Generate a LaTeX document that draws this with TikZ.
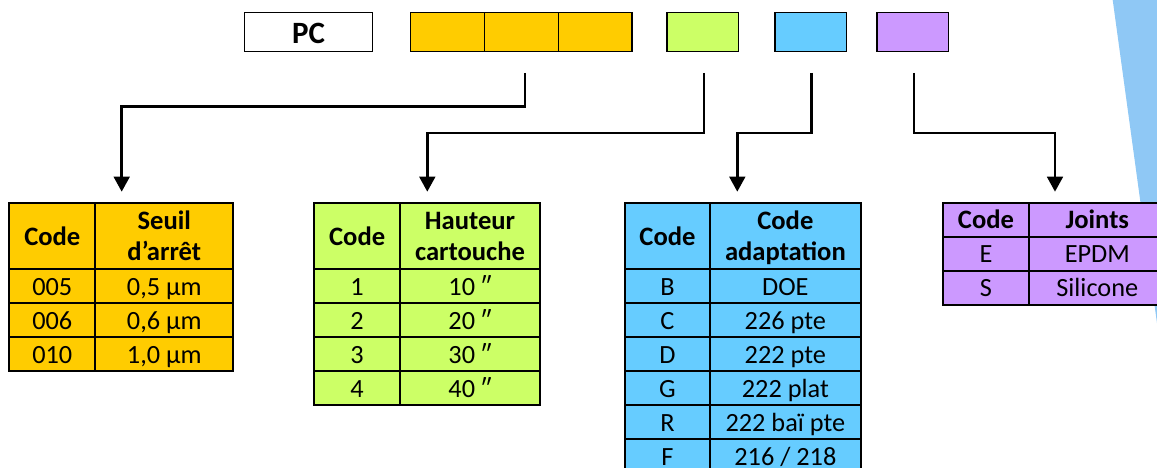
\documentclass[tikz,border=0pt]{standalone}
\usepackage{fontspec}
\setmainfont{Carlito}
\usetikzlibrary{arrows.meta}

\definecolor{seuilcol}{HTML}{FFCC00}
\definecolor{hauteurcol}{HTML}{CCFF66}
\definecolor{adaptcol}{HTML}{66CCFF}
\definecolor{jointcol}{HTML}{CC99FF}
\definecolor{swoosh}{HTML}{8FC8F5}

\tikzset{
  codebox/.style={draw, line width=1.3pt, minimum height=39pt, inner sep=0pt,
    outer sep=0pt, anchor=north west, text height=25pt, text depth=1pt,
    font=\fontsize{31}{31}\selectfont\bfseries},
  cell/.style={draw, line width=2.2pt, minimum height=34pt, inner sep=0pt,
    outer sep=0pt, anchor=north west, align=center, text height=19pt,
    text depth=1pt, font=\fontsize{26.3}{31.5}\selectfont},
  headcell/.style={cell, minimum height=66.7pt,
    font=\fontsize{26.6}{31.5}\selectfont\bfseries},
  twolines/.style={headcell, text height=50.5pt},
  link/.style={line width=2.6pt, -{Triangle[width=15.7pt,length=15pt]}},
}

\begin{document}
\begin{tikzpicture}[x=1pt, y=-1pt]
\useasboundingbox (0,0) rectangle (1157,468);
\clip (0,0) rectangle (1157,468);

\fill[swoosh] (1112.7,0) -- (1160,0) -- (1160,345) -- cycle;

%________________________________________________%
% reference code boxes
\node[codebox, minimum width=128.4pt] (pc) at (244.3,12.3) {PC};
\node[codebox, fill=seuilcol, minimum width=74.4pt] (s1) at (410.3,12.3) {};
\node[codebox, fill=seuilcol, minimum width=74pt] (s2) at (484.7,12.3) {};
\node[codebox, fill=seuilcol, minimum width=73.3pt] (s3) at (558.7,12.3) {};
\node[codebox, fill=hauteurcol, minimum width=71.7pt] (h) at (667,12.3) {};
\node[codebox, fill=adaptcol, minimum width=71.7pt] (a) at (775,12.3) {};
\node[codebox, fill=jointcol, minimum width=71.7pt] (j) at (877,12.3) {};

%________________________________________________%
% Seuil d'arret
\node[headcell, fill=seuilcol, minimum width=86pt] (sc0) at (9.3,202.7) {Code};
\node[twolines, fill=seuilcol, minimum width=138pt] (sv0) at (95.3,202.7) {Seuil\\d’arrêt};
\foreach \c/\v [count=\i] in {005/{0,5 µm}, 006/{0,6 µm}, 010/{1,0 µm}} {
  \node[cell, fill=seuilcol, minimum width=86pt] (sc\i) at (9.3,{235.3+34*\i}) {\c};
  \node[cell, fill=seuilcol, minimum width=138pt] (sv\i) at (95.3,{235.3+34*\i}) {\v};
}

%________________________________________________%
% Hauteur cartouche
\node[headcell, fill=hauteurcol, minimum width=85.7pt] (hc0) at (314.3,202.7) {Code};
\node[twolines, fill=hauteurcol, minimum width=140pt] (hv0) at (400,202.7) {Hauteur\\cartouche};
\foreach \c/\v [count=\i] in {1/10, 2/20, 3/30, 4/40} {
  \node[cell, fill=hauteurcol, minimum width=85.7pt] (hc\i) at (314.3,{235.3+34*\i}) {\c};
  \node[cell, fill=hauteurcol, minimum width=140pt] (hv\i) at (400,{235.3+34*\i}) {\v\ ″};
}

%________________________________________________%
% Code adaptation
\node[headcell, fill=adaptcol, minimum width=85pt] (ac0) at (625,202.7) {Code};
\node[twolines, fill=adaptcol, minimum width=150.7pt] (av0) at (710,202.7) {Code\\adaptation};
\foreach \c/\v [count=\i] in {B/DOE, C/226 pte, D/222 pte, G/222 plat, R/222 baï pte, F/{216 / 218}} {
  \node[cell, fill=adaptcol, minimum width=85pt] (ac\i) at (625,{235.3+34*\i}) {\c};
  \node[cell, fill=adaptcol, minimum width=150.7pt] (av\i) at (710,{235.3+34*\i}) {\v};
}

%________________________________________________%
% Joints
\node[cell, fill=jointcol, minimum width=86.6pt, font=\fontsize{26.6}{31.5}\selectfont\bfseries] (jc0) at (942.7,202.7) {Code};
\node[cell, fill=jointcol, minimum width=136pt, font=\fontsize{26.6}{31.5}\selectfont\bfseries] (jv0) at (1029.3,202.7) {Joints};
\foreach \c/\v [count=\i] in {E/EPDM, S/Silicone} {
  \node[cell, fill=jointcol, minimum width=86.6pt] (jc\i) at (942.7,{202.7+34*\i}) {\c};
  \node[cell, fill=jointcol, minimum width=136pt] (jv\i) at (1029.3,{202.7+34*\i}) {\v};
}

%________________________________________________%
% connectors
\coordinate (src1) at (525,73);
\coordinate (src2) at (704,73);
\coordinate (src3) at (811.7,73);
\coordinate (src4) at (914,73);
\coordinate (tip1) at (121.7,191.7);
\coordinate (tip2) at (427.3,191.7);
\coordinate (tip3) at (737.3,191.7);
\coordinate (tip4) at (1055,191.7);

\draw[link] (src1) -- ++(0,33.7) -| (tip1);
\draw[link] (src2) -- ++(0,60) -| (tip2);
\draw[link] (src3) -- ++(0,60) -| (tip3);
\draw[link] (src4) -- ++(0,60) -| (tip4);
%________________________________________________%
\end{tikzpicture}
\end{document}
